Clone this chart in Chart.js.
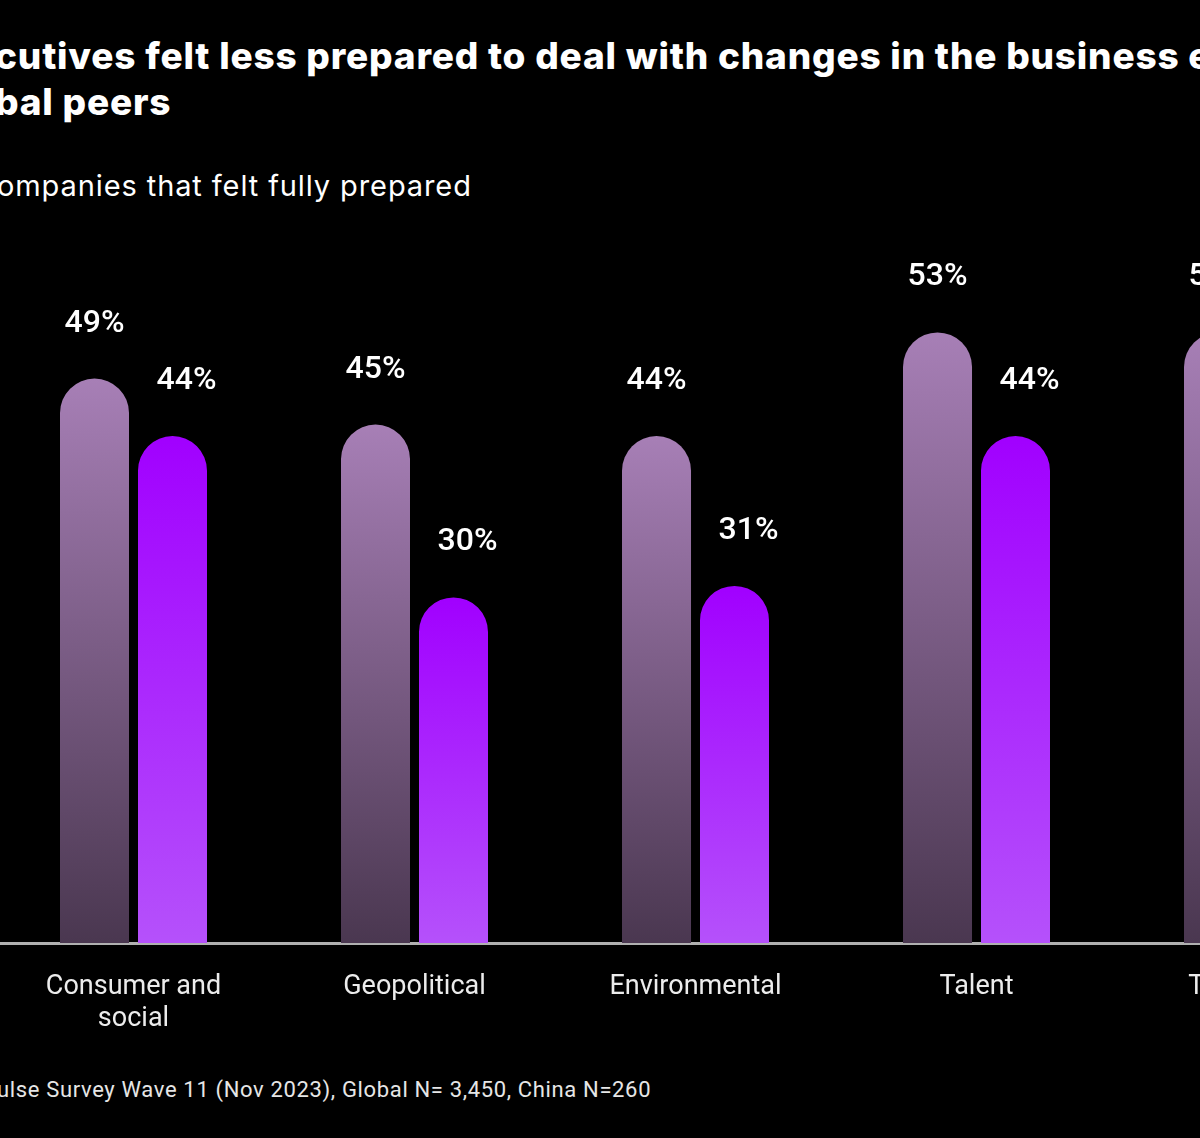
<!DOCTYPE html>
<html>
<head>
<meta charset="utf-8">
<script src="https://cdn.jsdelivr.net/npm/chart.js@4.4.1/dist/chart.umd.min.js"></script>
<style>
  html, body { margin: 0; padding: 0; background: #000; }
  body { width: 1200px; height: 1138px; position: relative; overflow: hidden; }
  .txt { position: absolute; white-space: nowrap; color: #fff; }
  #title { left: -5px; top: 33px; font: 800 37px/46px Inter, sans-serif; letter-spacing: 0.8px; }
  #sub { left: -3px; top: 168px; font: 400 29px Inter, sans-serif; letter-spacing: 0.9px; }
  #foot { left: -3px; top: 1077px; font: 400 22px Roboto, sans-serif; letter-spacing: 0.65px; color: #e6e6e6; }
  #wrap { position: absolute; left: -7px; top: 0; width: 1405px; height: 1060px; }
</style>
</head>
<body>
<div class="txt" id="title">cutives felt less prepared to deal with changes in the business environment<br>bal peers</div>
<div class="txt" id="sub">ompanies that felt fully prepared</div>
<div class="txt" id="foot">ulse Survey Wave 11 (Nov 2023), Global N= 3,450, China N=260</div>
<div id="wrap"><canvas id="chart"></canvas></div>
<script>
// categories and values (share of companies that felt fully prepared, %)
const categories = [["Consumer and", "social"], "Geopolitical", "Environmental", "Talent", "Technology"];
const globalValues = [49, 45, 44, 53, 53];
const chinaValues = [44, 30, 31, 44, null];

// gradient per bar, from its top down to the baseline
function barGradient(topColor, bottomColor) {
    return function (context) {
        const chart = context.chart;
        const y = chart.scales.y;
        if (!chart.chartArea || !y || context.raw == null) return topColor;
        const top = y.getPixelForValue(context.raw);
        const bottom = y.getPixelForValue(0);
        const g = chart.ctx.createLinearGradient(0, top, 0, bottom);
        g.addColorStop(0, topColor);
        g.addColorStop(1, bottomColor);
        return g;
    };
}

// value labels above the bars
const valueLabels = {
    id: 'valueLabels',
    afterDatasetsDraw(chart) {
        const ctx = chart.ctx;
        ctx.save();
        ctx.font = '500 32px Roboto, sans-serif';
        ctx.fillStyle = '#ffffff';
        ctx.textAlign = 'center';
        ctx.textBaseline = 'middle';
        chart.data.datasets.forEach((ds, i) => {
            const meta = chart.getDatasetMeta(i);
            meta.data.forEach((bar, j) => {
                const v = ds.data[j];
                if (v == null) return;
                const shift = i === 1 ? 14 : 0;
                ctx.fillText(v + '%', bar.x + shift, bar.y - 55);
            });
        });
        ctx.restore();
    }
};

let ctx = document.getElementById('chart').getContext('2d');
let chart = new Chart(ctx, {
    type: 'bar',
    data: {
        labels: categories,
        datasets: [{
            label: 'Global',
            data: globalValues,
            backgroundColor: barGradient('#a77fb6', '#4a3750'),
            borderRadius: 40,
            borderSkipped: 'start',
            barPercentage: 0.885,
            categoryPercentage: 0.555
        }, {
            label: 'China',
            data: chinaValues,
            backgroundColor: barGradient('#a100ff', '#b551fb'),
            borderRadius: 40,
            borderSkipped: 'start',
            barPercentage: 0.885,
            categoryPercentage: 0.555
        }]
    },
    options: {
        responsive: true,
        maintainAspectRatio: false,
        animation: false,
        layout: { padding: { top: 251.8, left: 0, right: 0, bottom: 0 } },
        plugins: {
            legend: { display: false },
            tooltip: { enabled: false },
            title: { display: false }
        },
        scales: {
            x: {
                grid: { display: false },
                border: { display: true, color: '#b0b0b0', width: 3 },
                ticks: {
                    color: '#ececec',
                    font: { family: 'Roboto', size: 27 },
                    padding: 20,
                    maxRotation: 0,
                    autoSkip: false
                },
                afterFit(scale) { scale.height = 117; }
            },
            y: {
                display: false,
                min: 0,
                max: 60
            }
        }
    },
    plugins: [valueLabels]
});
</script>
</body>
</html>
